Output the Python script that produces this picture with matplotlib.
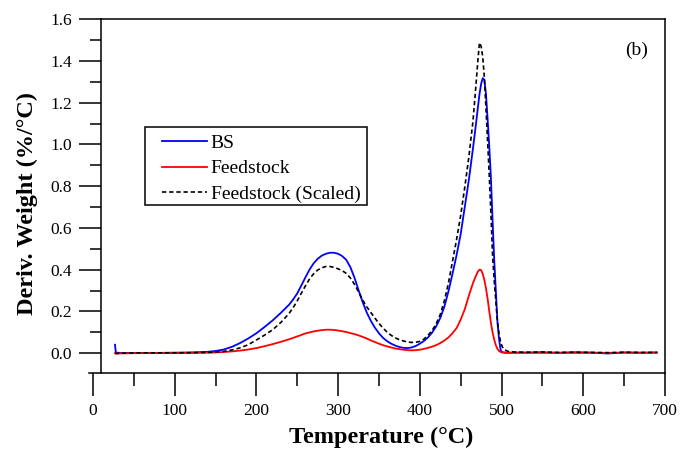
import numpy as np
import matplotlib
matplotlib.use("Agg")
import matplotlib.pyplot as plt
from matplotlib.patches import Rectangle
from matplotlib.ticker import MultipleLocator, FormatStrFormatter

plt.rcParams['font.family'] = ['Liberation Serif', 'DejaVu Serif']

# temperature grid (deg C)
temp = [27, 28, 40, 60, 80, 100, 120, 140, 150, 160,
        170, 180, 190, 200, 210, 220, 230, 240, 245, 250,
        255, 260, 265, 270, 275, 280, 285, 290, 295, 300,
        305, 310, 315, 320, 325, 330, 335, 340, 345, 350,
        355, 360, 365, 370, 375, 380, 385, 390, 395, 400,
        405, 410, 415, 420, 425, 430, 435, 440, 445, 450,
        455, 460, 465, 468, 471, 473, 475, 477, 479, 481,
        483, 485, 487, 489, 491, 493, 495, 497, 499, 501,
        504, 508, 515, 530, 550, 570, 590, 610, 630, 650,
        670, 690]

bs = [0.040, 0.002, 0.000, 0.001, 0.001, 0.002, 0.003, 0.006, 0.010, 0.017,
      0.030, 0.048, 0.070, 0.095, 0.125, 0.157, 0.193, 0.232, 0.257, 0.286,
      0.324, 0.363, 0.400, 0.430, 0.452, 0.467, 0.476, 0.481, 0.481, 0.476,
      0.465, 0.447, 0.412, 0.362, 0.302, 0.245, 0.195, 0.155, 0.122, 0.095,
      0.073, 0.057, 0.045, 0.036, 0.029, 0.025, 0.024, 0.027, 0.034, 0.045,
      0.058, 0.075, 0.098, 0.128, 0.168, 0.222, 0.295, 0.380, 0.470, 0.570,
      0.700, 0.830, 0.980, 1.075, 1.175, 1.240, 1.290, 1.318, 1.310, 1.240,
      1.120, 0.990, 0.840, 0.640, 0.450, 0.300, 0.150, 0.065, 0.012, 0.004,
      0.002, 0.002, 0.003, 0.002, 0.004, 0.001, 0.004, 0.002, -0.002, 0.003,
      0.002, 0.003]

feed = [0.000, -0.002, -0.001, 0.000, 0.000, 0.000, 0.001, 0.002, 0.003, 0.005,
        0.008, 0.012, 0.017, 0.024, 0.033, 0.043, 0.054, 0.066, 0.073, 0.080,
        0.087, 0.094, 0.099, 0.104, 0.107, 0.110, 0.112, 0.112, 0.111, 0.108,
        0.105, 0.101, 0.096, 0.091, 0.085, 0.078, 0.070, 0.061, 0.053, 0.045,
        0.038, 0.032, 0.027, 0.022, 0.019, 0.016, 0.014, 0.013, 0.014, 0.016,
        0.020, 0.025, 0.031, 0.038, 0.048, 0.060, 0.075, 0.095, 0.120, 0.160,
        0.210, 0.275, 0.335, 0.365, 0.390, 0.400, 0.398, 0.380, 0.350, 0.310,
        0.260, 0.200, 0.145, 0.100, 0.065, 0.038, 0.020, 0.010, 0.005, 0.003,
        0.002, 0.001, 0.001, 0.002, 0.001, 0.002, 0.001, 0.002, 0.001, 0.002,
        0.001, 0.002]

feed_scaled = [0.000, -0.002, 0.000, 0.001, 0.001, 0.001, 0.002, 0.003, 0.005, 0.008,
               0.015, 0.025, 0.040, 0.063, 0.086, 0.112, 0.147, 0.190, 0.218, 0.250,
               0.287, 0.322, 0.355, 0.380, 0.398, 0.409, 0.415, 0.415, 0.411, 0.404,
               0.395, 0.382, 0.360, 0.330, 0.293, 0.255, 0.222, 0.195, 0.168, 0.142,
               0.120, 0.100, 0.085, 0.073, 0.064, 0.058, 0.053, 0.051, 0.052, 0.056,
               0.067, 0.085, 0.108, 0.140, 0.185, 0.250, 0.335, 0.440, 0.545, 0.660,
               0.795, 0.940, 1.110, 1.250, 1.400, 1.488, 1.470, 1.420, 1.320, 1.170,
               1.010, 0.850, 0.670, 0.470, 0.350, 0.250, 0.150, 0.090, 0.050, 0.030,
               0.015, 0.008, 0.005, 0.004, 0.005, 0.003, 0.004, 0.003, 0.002, 0.004,
               0.003, 0.003]

fig = plt.figure(figsize=(6.83, 4.61), dpi=100)
ax = fig.add_axes([0.1307, 0.1902, 0.8429, 0.7679])

ax.plot(temp, bs, color='#0000ff', lw=1.3, label='BS')
ax.plot(temp, feed, color='#ff0000', lw=1.3, label='Feedstock')
ax.plot(temp, feed_scaled, color='black', lw=1.2, ls=(0, (2.6, 1.7)),
        label='Feedstock (Scaled)')

ax.set_xlim(-4.5, 700)
ax.set_ylim(-0.097, 1.6)

# Origin-style offset axes
y_axis_pos = 9.8
ax.spines['left'].set_position(('data', y_axis_pos))
ax.spines['top'].set_bounds(y_axis_pos, 700)
for s in ax.spines.values():
    s.set_linewidth(1.1)

ax.xaxis.set_major_locator(MultipleLocator(100))
ax.xaxis.set_minor_locator(MultipleLocator(50))
ax.yaxis.set_major_locator(MultipleLocator(0.2))
ax.yaxis.set_minor_locator(MultipleLocator(0.1))
ax.yaxis.set_major_formatter(FormatStrFormatter('%.1f'))

ax.tick_params(which='major', direction='out', width=1.1, labelsize=12.5)
ax.tick_params(which='minor', direction='out', width=1.1)
ax.tick_params(axis='x', which='major', length=16.5, pad=5)
ax.tick_params(axis='x', which='minor', length=9.4)
ax.tick_params(axis='y', which='major', length=15.8, pad=5)
ax.tick_params(axis='y', which='minor', length=8)

ax.set_xlabel('Temperature (°C)', fontsize=17.5, fontweight='bold')
ax.set_ylabel('Deriv. Weight (%/°C)', fontsize=17.5, fontweight='bold')
ax.xaxis.set_label_coords(0.507, -0.150)
ax.yaxis.set_label_coords(-0.089, 0.481)

ax.text(0.951, 0.913, '(b)', transform=ax.transAxes, fontsize=14,
        ha='center', va='center')

leg = ax.legend(loc='upper left', bbox_to_anchor=(0.1263, 0.675), fontsize=14,
                frameon=False, handlelength=2.3, handletextpad=0.2,
                labelspacing=0.4, borderpad=0, borderaxespad=0)
ax.add_patch(Rectangle((0.0968, 0.4754), 0.3856, 0.2203, transform=ax.transAxes,
                       fill=False, edgecolor='black', lw=1.1, zorder=5))

fig.savefig('out.png', dpi=100)
